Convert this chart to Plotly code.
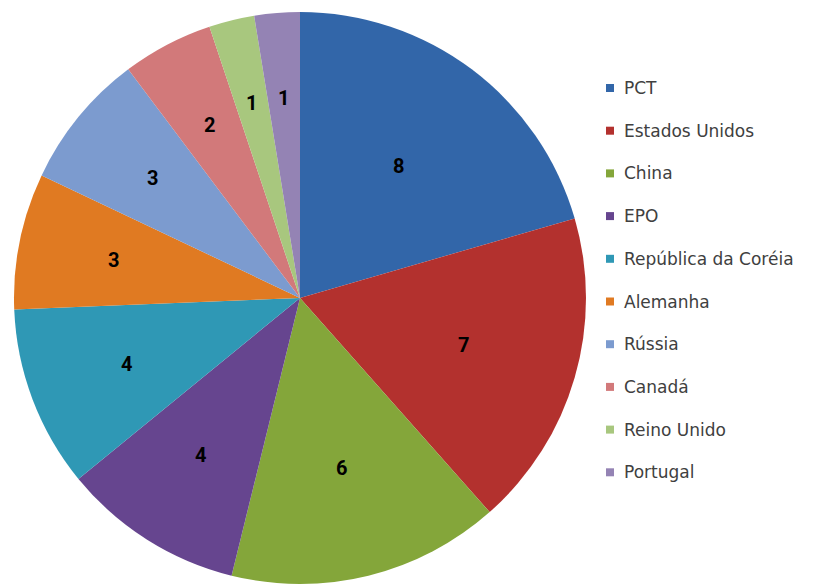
import math
import plotly.graph_objects as go

# Country / office breakdown
labels = ["PCT", "Estados Unidos", "China", "EPO", "República da Coréia",
          "Alemanha", "Rússia", "Canadá", "Reino Unido", "Portugal"]
values = [8, 7, 6, 4, 4, 3, 3, 2, 1, 1]
colors = ["#3266A9", "#B3312E", "#84A63A", "#66458F", "#2F98B5",
          "#E07A22", "#7C9BCF", "#D2797A", "#A8C77E", "#9483B4"]

W, H = 814, 584

# Pie geometry in pixels (domain -> centre and radius)
px_left, px_right = 14, 586
px_top, px_bottom = 12, H
cx = (px_left + px_right) / 2
cy = (px_top + px_bottom) / 2
R = min(px_right - px_left, px_bottom - px_top) / 2

fig = go.Figure()
fig.add_trace(go.Pie(
    labels=labels,
    values=values,
    sort=False,
    direction="clockwise",
    rotation=0,
    marker=dict(colors=colors, line=dict(width=0)),
    textinfo="none",
    showlegend=False,
    hoverinfo="label+value",
    domain=dict(x=[px_left / W, px_right / W], y=[1 - px_bottom / H, 1 - px_top / H]),
))

annotations = []

# Value labels at each slice's mid-angle; thinner slices sit a bit further out
total = sum(values)
cum = 0
for v in values:
    mid = (cum + v / 2) / total * 2 * math.pi
    cum += v
    frac = 0.72 - 0.018 * v
    x = cx + frac * R * math.sin(mid)
    y = cy - frac * R * math.cos(mid)
    annotations.append(dict(
        text=f"<b>{v}</b>", xref="paper", yref="paper",
        x=x / W, y=1 - y / H, xanchor="center", yanchor="middle",
        showarrow=False,
        font=dict(family="Liberation Sans Narrow, Roboto", size=20, color="#000000"),
    ))

# Legend built as squares + text, one row per label
leg_top = 88
leg_gap = 42.7
shapes = []
for i, (lab, col) in enumerate(zip(labels, colors)):
    yc = leg_top + i * leg_gap
    shapes.append(dict(
        type="rect", xref="paper", yref="paper",
        x0=606 / W, x1=614 / W, y0=1 - (yc + 4) / H, y1=1 - (yc - 4) / H,
        fillcolor=col, line=dict(width=0),
    ))
    annotations.append(dict(
        text=lab, xref="paper", yref="paper",
        x=622 / W, y=1 - yc / H, xanchor="left", yanchor="middle",
        showarrow=False,
        font=dict(family="DejaVu Sans", size=17, color="#404040"),
    ))

fig.update_layout(
    width=W, height=H,
    margin=dict(l=0, r=0, t=0, b=0),
    paper_bgcolor="white",
    plot_bgcolor="white",
    shapes=shapes,
    annotations=annotations,
)

fig.write_html("out.html")
